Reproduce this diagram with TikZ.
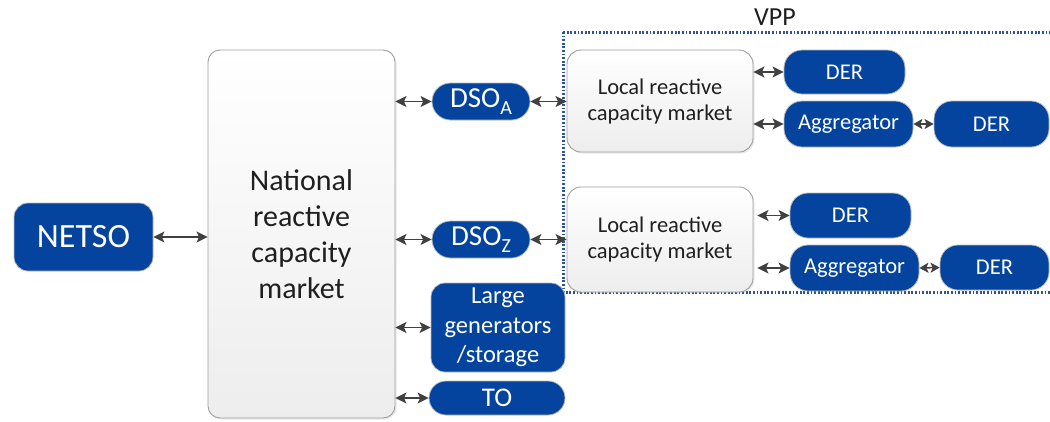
\documentclass[tikz,border=0pt]{standalone}
\usepackage{fontspec}
\setmainfont{Carlito}
\usetikzlibrary{arrows.meta,shadows}
\definecolor{derblue}{RGB}{4,68,158}
\definecolor{vppblue}{RGB}{46,84,150}
\definecolor{arrgray}{RGB}{64,64,64}
\definecolor{mktline}{RGB}{160,160,160}
\tikzset{
  bluebox/.style={draw=gray!55, line width=0.8pt, fill=derblue, text=white,
    align=center, inner sep=0pt},
  mktbox/.style={draw=mktline, line width=0.9pt, top color=white, bottom color=gray!14,
    text=black!88, align=center, inner sep=0pt,
    drop shadow={opacity=0.18, shadow xshift=1.5pt, shadow yshift=-1.5pt}},
  tipshape/.tip={Stealth[length=11pt,width=11pt,inset=2.5pt]},
  smalltip/.tip={Stealth[length=9pt,width=10pt,inset=2pt]},
  link/.style={draw=arrgray, line width=1.5pt, tipshape-tipshape},
  shortlink/.style={draw=arrgray, line width=1.5pt, smalltip-smalltip},
  fsz/.style={font=\fontsize{#1}{#1}\selectfont}
}
\begin{document}
\begin{tikzpicture}[x=1pt,y=-1pt]
\useasboundingbox (0,0) rectangle (1050,421);
\clip (0,0) rectangle (1050,421);

% VPP frame
\draw[vppblue, line width=3pt, dash pattern=on 1.8pt off 1.8pt] (563,32) rectangle (1060,292);
\node[fsz=26, text=black!88] (vpp) at (775,17) {VPP};

% National level
\node[bluebox, rounded corners=14pt, minimum width=139pt, minimum height=68pt, fsz=34]
  (netso) at (83.5,237) {NETSO};
\node[mktbox, rounded corners=12pt, minimum width=187pt, minimum height=368pt,
  font=\fontsize{30}{36}\selectfont]
  (nat) at (301.5,234) {National\\reactive\\capacity\\market};

% Distribution system operators
\node[bluebox, rounded corners=18.5pt, minimum width=98pt, minimum height=37pt, fsz=29]
  (dsoa) at (481,101.5) {DSO\raisebox{-0.45ex}{\fontsize{20}{20}\selectfont A}};
\node[bluebox, rounded corners=18.5pt, minimum width=98pt, minimum height=37pt, fsz=29]
  (dsoz) at (481,239.5) {DSO\raisebox{-0.45ex}{\fontsize{20}{20}\selectfont Z}};

% Large units and TO
\node[bluebox, rounded corners=14pt, minimum width=134pt, minimum height=89pt,
  font=\fontsize{24.5}{29.5}\selectfont]
  (lg) at (498,327.5) {Large\\generators\\/storage};
\node[bluebox, rounded corners=17pt, minimum width=136pt, minimum height=34pt, fsz=27]
  (to) at (497,398) {TO};

% Local markets
\node[mktbox, rounded corners=14pt, minimum width=186pt, minimum height=102pt,
  font=\fontsize{22.5}{26}\selectfont]
  (loc1) at (660,101) {Local reactive\\capacity market};
\node[mktbox, rounded corners=14pt, minimum width=186pt, minimum height=105pt,
  font=\fontsize{22.5}{26}\selectfont]
  (loc2) at (660,239.5) {Local reactive\\capacity market};

% DERs and aggregators
\node[bluebox, rounded corners=18pt, minimum width=121pt, minimum height=44pt, fsz=22.5]
  (der1) at (844.5,72) {DER};
\node[bluebox, rounded corners=18pt, minimum width=129pt, minimum height=46pt, fsz=22.5]
  (agg1) at (848.5,124) {Aggregator};
\node[bluebox, rounded corners=18pt, minimum width=115pt, minimum height=46pt, fsz=22.5]
  (der2) at (991.5,124) {DER};
\node[bluebox, rounded corners=18pt, minimum width=121pt, minimum height=45pt, fsz=22.5]
  (der3) at (850.5,215.5) {DER};
\node[bluebox, rounded corners=18pt, minimum width=129pt, minimum height=46pt, fsz=22.5]
  (agg2) at (854.5,268) {Aggregator};
\node[bluebox, rounded corners=18pt, minimum width=109pt, minimum height=45pt, fsz=22.5]
  (der4) at (994.5,267.5) {DER};

% Connections
\draw[link] (netso.east) -- (nat.west |- netso);
\draw[link] (nat.east |- dsoa) -- (dsoa.west);
\draw[link] (nat.east |- dsoz) -- (dsoz.west);
\draw[link] (nat.east |- lg) -- (lg.west);
\draw[link] (nat.east |- to) -- (to.west);
\draw[link] (dsoa.east) -- (loc1.west |- dsoa);
\draw[link] (dsoz.east) -- (loc2.west |- dsoz);
\draw[link] (loc1.east |- der1) -- (der1.west);
\draw[link] (loc1.east |- agg1) -- (agg1.west);
\draw[shortlink] (agg1.east) -- (der2.west);
\draw[link, shorten <=4pt] (loc2.east |- der3) -- (der3.west);
\draw[link, shorten <=4pt] (loc2.east |- agg2) -- (agg2.west);
\draw[shortlink] (agg2.east) -- (der4.west);
\end{tikzpicture}
\end{document}
